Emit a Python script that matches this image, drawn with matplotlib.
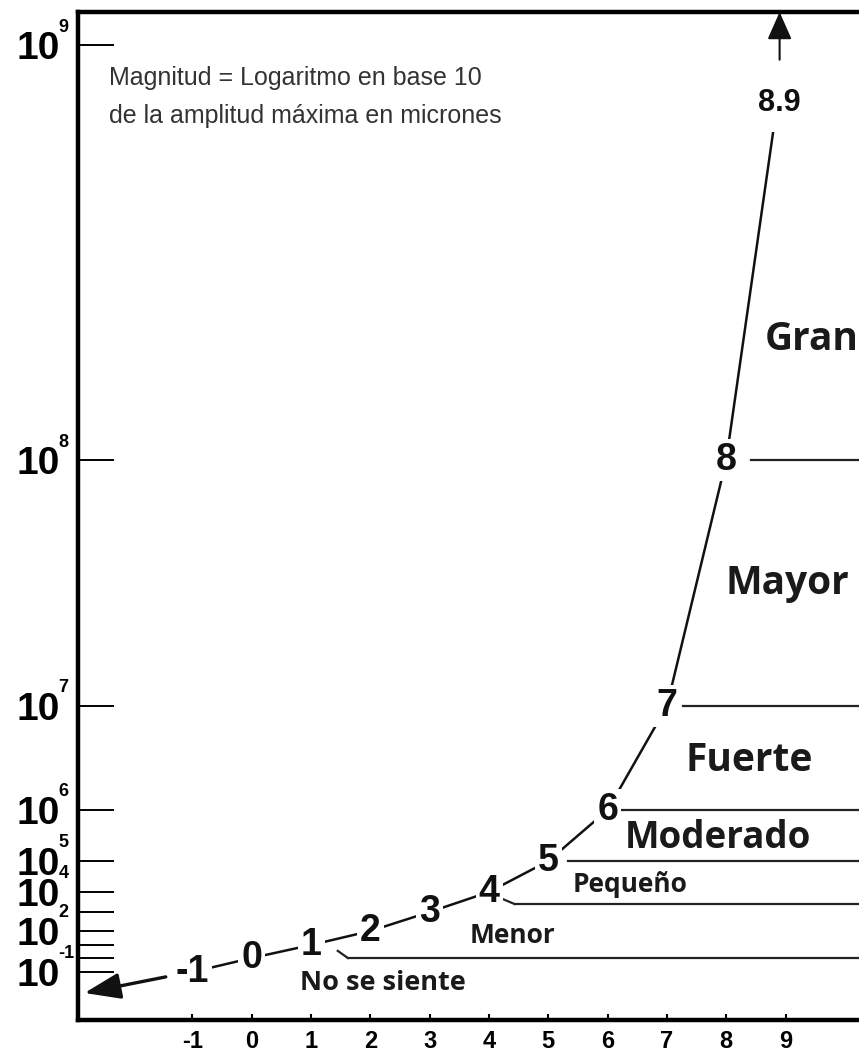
import numpy as np
import matplotlib
matplotlib.use("Agg")
import matplotlib.pyplot as plt
import matplotlib.transforms as mtransforms

# Escala de Richter: magnitud vs amplitud (10^n micrones)
magnitudes = [-1, 0, 1, 2, 3, 4, 5, 6, 7, 8, 8.9]
exponentes = [-1, 0, 1, 2, 3, 4, 5, 6, 7, 8, 8.9]
etiquetas_curva = ["-1", "0", "1", "2", "3", "4", "5", "6", "7", "8", "8.9"]

# ticks del eje y (exponente de 10) y las etiquetas que se ven
y_ticks = [9, 8, 7, 6, 5, 4, 3, 2, 1, 0, -1]
y_labels = ["9", "8", "7", "6", "5", "4", "", "2", "", "", "-1"]
x_ticks = list(range(-1, 10))

# posicion vertical de cada potencia en el dibujo original (altura relativa)
escala_exp = [-6, -1, 0, 1, 2, 3, 4, 5, 6, 7, 8, 9, 12]
escala_alt = [12, 82, 96, 109, 123, 142, 162, 193, 244, 348, 594, 1009, 2254]

# categorias y lineas de separacion
categorias = ["Gran", "Mayor", "Fuerte", "Moderado", "Pequeño", "Menor", "No se siente"]
cat_pos = [(8.65, 8.29), (7.98, 7.5), (7.32, 6.48), (6.29, 5.45), (5.41, 4.23), (3.68, 1.71), (0.81, -1.79)]
cat_size = [28, 28, 28, 26.5, 19, 19, 19.5]
limites = [8, 7, 6, 5, 3.4, 0]
limites_inicio = [8.42, 7.27, 6.24, 5.33, 4.43, 1.62]


def forward(e):
    return np.interp(e, escala_exp, escala_alt)


def inverse(h):
    return np.interp(h, escala_alt, escala_exp)


fig = plt.figure(figsize=(8.59, 10.54), dpi=100)
ax = fig.add_axes([78 / 859, 34 / 1054, 822 / 859, 1008 / 1054])
ax.set_yscale("function", functions=(forward, inverse))
ax.set_xlim(-2.93, 10.93)
ax.set_ylim(-4.43, 9.08)

for s in ["left", "bottom", "top"]:
    ax.spines[s].set_linewidth(3.2)
ax.spines["right"].set_visible(False)

# eje y: "10" como etiqueta y el exponente como superindice aparte
ax.set_yticks(y_ticks)
ax.set_yticklabels(["10" if l else "" for l in y_labels], fontsize=28,
                   fontweight="bold", family="Liberation Sans")
ax.tick_params(axis="y", direction="in", length=26, width=1.4, pad=13)
trans_sup = mtransforms.blended_transform_factory(ax.transAxes, ax.transData)
for e, l in zip(y_ticks, y_labels):
    if l:
        ax.annotate(l, xy=(-0.024, e), xycoords=trans_sup, xytext=(0, 13),
                    textcoords="offset points", ha="left", va="center",
                    fontsize=13, fontweight="bold", family="Liberation Sans",
                    annotation_clip=False)

ax.set_xticks(x_ticks)
ax.set_xticklabels([str(v) for v in x_ticks], fontsize=17, fontweight="bold",
                   family="Liberation Sans")
ax.tick_params(axis="x", direction="in", length=4, width=1.5, pad=7)
ax.yaxis.set_minor_locator(plt.NullLocator())

# curva magnitud = log10(amplitud)
ax.plot(magnitudes, exponentes, color="#111111", lw=1.8, zorder=2)
for m, e, t in zip(magnitudes, exponentes, etiquetas_curva):
    ultimo = t == "8.9"
    ax.annotate(t, (m, e), xytext=(0, -12 if ultimo else 0), textcoords="offset points",
                ha="center", va="center", fontsize=22 if ultimo else 27,
                fontweight="bold", family="Liberation Sans", color="#111111", zorder=3,
                bbox=dict(boxstyle="square,pad=%s" % (0.45 if ultimo else 0.08),
                          fc="white", ec="none"))

# flechas en los extremos
ax.annotate("", xy=(8.9, 9.08), xytext=(8.9, 8.965),
            arrowprops=dict(arrowstyle="-|>,head_length=1.7,head_width=0.75",
                            color="#111111", lw=1.5, shrinkA=0, shrinkB=0), zorder=4)
ax.annotate("", xy=(-2.82, -2.5), xytext=(-1.45, -1.35),
            arrowprops=dict(arrowstyle="-|>,head_length=2.2,head_width=0.8",
                            color="#111111", lw=2.4, shrinkA=0, shrinkB=0))

# lineas de separacion entre categorias
for lv, x0 in zip(limites, limites_inicio):
    ax.plot([x0, 12], [lv, lv], color="#222222", lw=1.6, zorder=1)
ax.plot([4.15, 4.43], [3.75, 3.4], color="#222222", lw=1.6, zorder=1)
ax.plot([1.45, 1.62], [0.55, 0.0], color="#222222", lw=1.6, zorder=1)

for c, (x, y), fs in zip(categorias, cat_pos, cat_size):
    ax.text(x, y, c, ha="left", va="center", fontsize=fs, fontweight="bold",
            family="Open Sans", color="#1a1a1a")

ax.text(-2.4, 8.875, "Magnitud = Logaritmo en base 10\nde la amplitud máxima en micrones",
        ha="left", va="center", fontsize=18, family="Liberation Sans",
        color="#333333", linespacing=1.7)

fig.savefig("out.png", dpi=100)
